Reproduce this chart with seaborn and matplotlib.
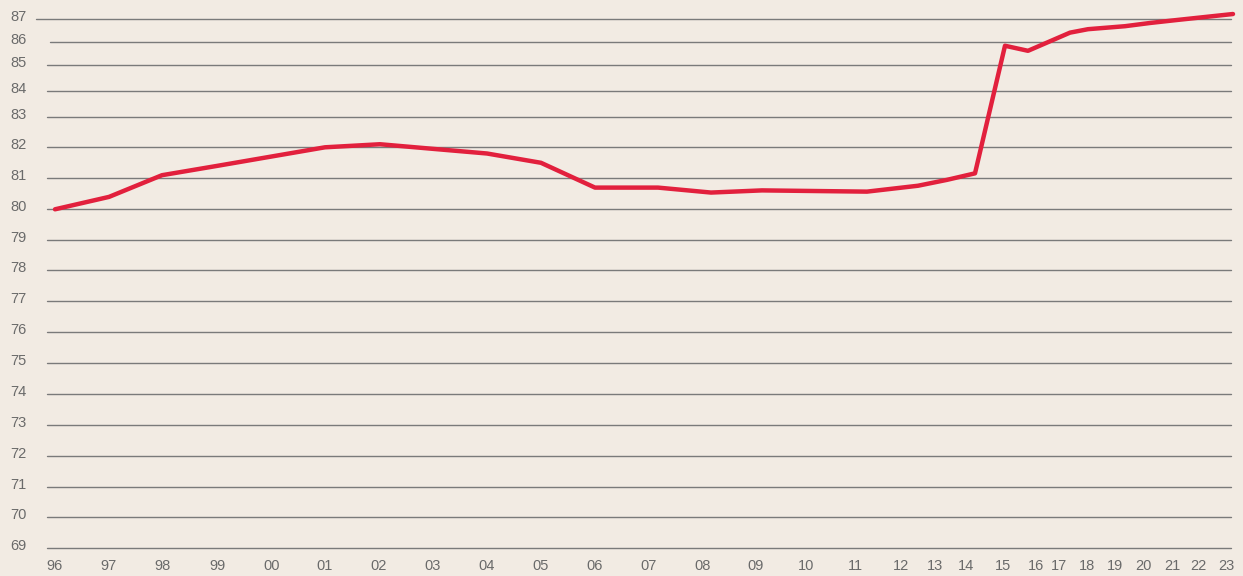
import numpy as np
import pandas as pd
import matplotlib
matplotlib.use("Agg")
import matplotlib.pyplot as plt
import seaborn as sns

# ---------------- data ----------------
years = list(range(1996, 2024))
year_labels = ["96", "97", "98", "99", "00", "01", "02", "03", "04", "05", "06",
               "07", "08", "09", "10", "11", "12", "13", "14", "15", "16", "17",
               "18", "19", "20", "21", "22", "23"]
values = [80.0, 80.4, 81.1, 81.4, 81.7, 82.0, 82.1, 81.95, 81.8, 81.5, 80.7,
          80.7, 80.54, 80.61, 80.59, 80.57, 80.76, 80.95, 81.16, 85.85, 85.63,
          86.42, 86.57, 86.7, 86.84, 86.97, 87.1, 87.23]
y_ticks = list(range(69, 88))

# ---------------- layout (non-uniform axis spacing of the original) ----------------
W, H = 1243, 576
point_px = [55, 109, 162, 217, 271, 325, 380, 433, 487, 541, 595, 658, 711, 762,
            814, 867, 918, 947, 975, 1005, 1028, 1070, 1088, 1125, 1150, 1177, 1205, 1233]
label_px = [54, 109, 163, 218, 272, 325, 379, 433, 487, 541, 595, 649, 703, 756,
            806, 855, 901, 935, 966, 1003, 1036, 1059, 1087, 1115, 1143, 1172, 1198, 1226]
grid_px = [548, 517.3, 486.7, 455.7, 425, 394, 363, 332, 301, 270, 240, 209.3,
           178.3, 147.3, 116.7, 91.3, 65.3, 42.3, 19.3]


def piecewise(xp, fp):
    xp = np.asarray(xp, float)
    fp = np.asarray(fp, float)

    def f(x):
        x = np.asarray(x, float)
        y = np.interp(x, xp, fp)
        s0 = (fp[1] - fp[0]) / (xp[1] - xp[0])
        s1 = (fp[-1] - fp[-2]) / (xp[-1] - xp[-2])
        y = np.where(x < xp[0], fp[0] + (x - xp[0]) * s0, y)
        y = np.where(x > xp[-1], fp[-1] + (x - xp[-1]) * s1, y)
        return y
    return f


x_fwd = piecewise(years, point_px)
x_inv = piecewise(point_px, years)
y_up = [H - p for p in grid_px]
y_fwd = piecewise(y_ticks, y_up)
y_inv = piecewise(y_up, y_ticks)

BG = "#f2ebe3"
RED = "#e2203d"
GRID = "#7a7a7a"
TXT = "#6a6a6a"

sns.set_theme(style="white", rc={"axes.facecolor": BG, "figure.facecolor": BG})
plt.rcParams["font.family"] = ["Liberation Sans", "DejaVu Sans"]

fig = plt.figure(figsize=(W / 100, H / 100), dpi=100)
ax = fig.add_axes([0, 0, 1, 1])
ax.set_xscale("function", functions=(x_fwd, x_inv))
ax.set_yscale("function", functions=(y_fwd, y_inv))
ax.set_xlim(float(x_inv(0)), float(x_inv(W)))
ax.set_ylim(float(y_inv(0)), float(y_inv(H)))

# gridlines
for v in y_ticks:
    start = 36 if v == 87 else (50 if v == 86 else 47)
    ax.axhline(v, xmin=start / W, xmax=1231 / W, color=GRID, lw=1.0, zorder=1)

df = pd.DataFrame({"year": years, "value": values})
sns.lineplot(data=df, x="year", y="value", ax=ax, color=RED, lw=3.2,
             zorder=3, clip_on=False)

# y labels
for v in y_ticks:
    ax.annotate(str(v), xy=(10 / W, v), xycoords=("axes fraction", "data"),
                xytext=(0, 1.5), textcoords="offset points",
                ha="left", va="center", fontsize=10.5, color=TXT)

# x labels
tick_x = x_inv(label_px)
for tx, lbl in zip(tick_x, year_labels):
    ax.annotate(lbl, xy=(float(tx), (H - 566) / H), xycoords=("data", "axes fraction"),
                ha="center", va="center", fontsize=10.5, color=TXT)

ax.set_xlabel("")
ax.set_ylabel("")
ax.set_xticks([])
ax.set_yticks([])
for s in ax.spines.values():
    s.set_visible(False)
leg = ax.get_legend()
if leg:
    leg.remove()

fig.savefig("out.png", dpi=100, facecolor=BG)
